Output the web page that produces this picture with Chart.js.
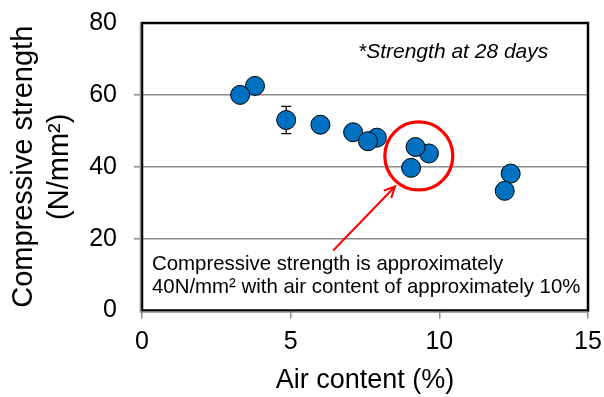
<!DOCTYPE html>
<html>
<head>
<meta charset="utf-8">
<script src="https://cdn.jsdelivr.net/npm/chart.js@4.4.1/dist/chart.umd.min.js"></script>
<style>
  html, body { margin: 0; padding: 0; background: #fff; }
  #wrap { width: 604px; height: 397px; }
</style>
</head>
<body>
<div id="wrap"><canvas id="strengthChart" width="604" height="397"></canvas></div>
<script>
// Air content (%) vs 28-day compressive strength (N/mm2)
const airContent = [3.8, 3.3, 4.85, 6.0, 7.1, 7.9, 7.6, 9.65, 9.2, 9.05, 12.4, 12.2];
const strength = [62.5, 60.0, 53.0, 51.7, 49.6, 48.1, 47.1, 43.7, 45.5, 39.7, 38.1, 33.3];
const strengthError = [0, 0, 3.8, 0, 0, 0, 0, 0, 0, 0, 0, 0];

const xTicks = [0, 5, 10, 15];
const yTicks = [0, 20, 40, 60, 80];

// callout: circled group and arrow pointing at it (data units)
const circleCenter = [9.31, 43.0];
const arrowFrom = [6.43, 16.7];
const arrowTo = [8.51, 34.5];

const FONT = "'Liberation Sans', Arial, sans-serif";

const points = airContent.map((x, i) => ({ x: x, y: strength[i] }));

const errorBars = {
    id: 'errorBars',
    beforeDatasetsDraw(chart) {
        const { ctx, scales: { x, y } } = chart;
        ctx.save();
        ctx.strokeStyle = '#000';
        ctx.lineWidth = 1.3;
        strengthError.forEach((err, i) => {
            if (!err) return;
            const px = x.getPixelForValue(airContent[i]);
            const top = y.getPixelForValue(strength[i] + err);
            const bot = y.getPixelForValue(strength[i] - err);
            ctx.beginPath();
            ctx.moveTo(px, top); ctx.lineTo(px, bot);
            ctx.moveTo(px - 5, top); ctx.lineTo(px + 5, top);
            ctx.moveTo(px - 5, bot); ctx.lineTo(px + 5, bot);
            ctx.stroke();
        });
        ctx.restore();
    }
};

const plotFrame = {
    id: 'plotFrame',
    beforeDatasetsDraw(chart) {
        const { ctx, chartArea: a } = chart;
        ctx.save();
        ctx.strokeStyle = '#000';
        ctx.lineWidth = 2.5;
        ctx.strokeRect(a.left, a.top, a.right - a.left, a.bottom - a.top);
        ctx.strokeStyle = '#8c8c8c';
        ctx.lineWidth = 1.5;
        ctx.beginPath();
        ctx.moveTo(a.left - 1.5, a.top); ctx.lineTo(a.left - 1.5, a.bottom + 1.5);
        ctx.lineTo(a.right, a.bottom + 1.5);
        ctx.stroke();
        ctx.restore();
    }
};

const callout = {
    id: 'callout',
    afterDatasetsDraw(chart) {
        const { ctx, scales: { x, y } } = chart;
        ctx.save();
        ctx.strokeStyle = '#ff0000';
        ctx.fillStyle = '#ff0000';

        // red ring
        ctx.lineWidth = 3.2;
        ctx.beginPath();
        ctx.arc(x.getPixelForValue(circleCenter[0]), y.getPixelForValue(circleCenter[1]), 34, 0, Math.PI * 2);
        ctx.stroke();

        // arrow
        const x1 = x.getPixelForValue(arrowFrom[0]), y1 = y.getPixelForValue(arrowFrom[1]);
        const x2 = x.getPixelForValue(arrowTo[0]), y2 = y.getPixelForValue(arrowTo[1]);
        const ang = Math.atan2(y2 - y1, x2 - x1);
        ctx.lineWidth = 2;
        ctx.beginPath();
        ctx.moveTo(x1, y1); ctx.lineTo(x2, y2);
        ctx.moveTo(x2 - 12 * Math.cos(ang - 0.45), y2 - 12 * Math.sin(ang - 0.45));
        ctx.lineTo(x2, y2);
        ctx.lineTo(x2 - 12 * Math.cos(ang + 0.45), y2 - 12 * Math.sin(ang + 0.45));
        ctx.stroke();

        // notes
        ctx.fillStyle = '#000';
        ctx.textBaseline = 'alphabetic';
        ctx.font = 'italic 21px ' + FONT;
        ctx.textAlign = 'left';
        ctx.fillText('*Strength at 28 days', 358, 58);

        ctx.font = '20.4px ' + FONT;
        ctx.fillText('Compressive strength is approximately', 152, 270);
        ctx.fillText('40N/mm\u00b2 with air content of approximately 10%', 152, 293);
        ctx.restore();
    }
};

new Chart(document.getElementById('strengthChart'), {
    type: 'scatter',
    data: {
        datasets: [{
            data: points,
            backgroundColor: '#0070c0',
            borderColor: '#000',
            borderWidth: 1,
            pointRadius: 9.5,
            pointHoverRadius: 9.5
        }]
    },
    options: {
        responsive: false,
        animation: false,
        layout: { padding: { top: 23, right: 16, left: 0, bottom: 0 } },
        plugins: {
            legend: { display: false },
            tooltip: { enabled: false }
        },
        scales: {
            x: {
                type: 'linear',
                min: 0,
                max: 15,
                afterBuildTicks: axis => { axis.ticks = xTicks.map(v => ({ value: v })); },
                afterFit: axis => {
                    axis.height = 86.5;
                    axis.paddingLeft = 0;
                    axis.paddingRight = 0;
                },
                border: { display: false },
                grid: { drawOnChartArea: false, drawTicks: true, tickLength: 8, color: '#8c8c8c', lineWidth: 1.5 },
                ticks: { color: '#000', padding: 9, font: { family: FONT, size: 25 } },
                title: {
                    display: true,
                    text: 'Air content (%)',
                    color: '#000',
                    padding: { top: 0, bottom: 0 },
                    font: { family: FONT, size: 27 }
                }
            },
            y: {
                min: 0,
                max: 80,
                afterBuildTicks: axis => { axis.ticks = yTicks.map(v => ({ value: v })); },
                afterFit: axis => {
                    axis.width = 142;
                    axis.paddingTop = 0;
                    axis.paddingBottom = 0;
                },
                border: { display: false },
                grid: {
                    drawTicks: true,
                    tickLength: 8,
                    color: '#8c8c8c',
                    lineWidth: ctx => (ctx.tick && (ctx.tick.value === 0 || ctx.tick.value === 80)) ? 0 : 1.5
                },
                ticks: { color: '#000', padding: 17, font: { family: FONT, size: 25 } },
                title: {
                    display: true,
                    text: ['Compressive strength', '(N/mm\u00b2)'],
                    color: '#000',
                    padding: { top: 6, bottom: 0 },
                    font: { family: FONT, size: 29, lineHeight: 1.25 }
                }
            }
        }
    },
    plugins: [plotFrame, errorBars, callout]
});
</script>
</body>
</html>
